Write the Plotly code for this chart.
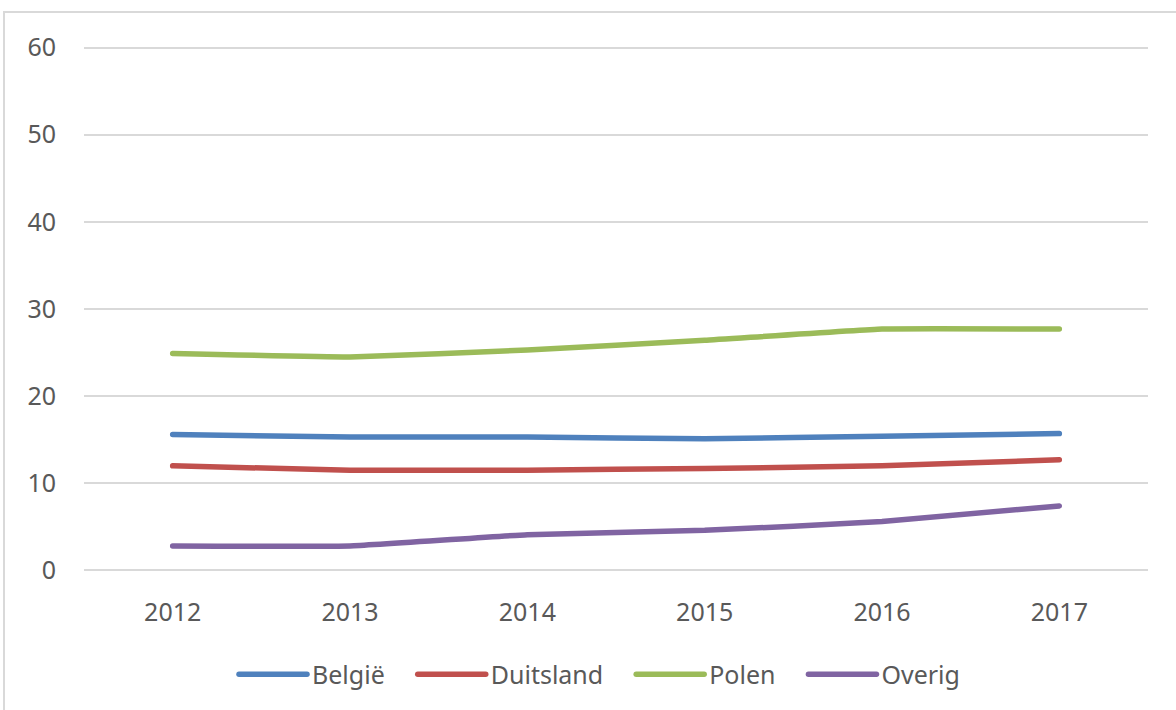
import plotly.graph_objects as go

years = ["2012", "2013", "2014", "2015", "2016", "2017"]
belgie = [15.6, 15.3, 15.3, 15.1, 15.4, 15.7]
duitsland = [12.0, 11.5, 11.5, 11.7, 12.0, 12.7]
polen = [24.9, 24.5, 25.3, 26.4, 27.7, 27.7]
overig = [2.8, 2.8, 4.1, 4.6, 5.6, 7.4]

series = [
    ("België", belgie, "#4F81BD"),
    ("Duitsland", duitsland, "#C0504D"),
    ("Polen", polen, "#9BBB59"),
    ("Overig", overig, "#8064A2"),
]

fig = go.Figure()
for name, vals, color in series:
    fig.add_trace(go.Scatter(
        x=years, y=vals, name=name, mode="lines",
        line=dict(color=color, width=5.5, shape="spline", smoothing=0.3),
    ))

W, H = 1176, 710
# plot area in pixels: x 84..1148, value 60 at y=48, value 0 at y=570
pad = 0.3
ppu = 522 / 60.0
L = 84
R = W - 1148
T = 48 - pad * ppu
B = H - (570 + pad * ppu)
pw, ph = W - L - R, H - T - B

def px_x(x):
    return (x - L) / pw

def px_y(y):
    return (H - B - y) / ph

fig.update_layout(
    width=W, height=H,
    margin=dict(l=L, r=R, t=T, b=B, pad=0),
    paper_bgcolor="white", plot_bgcolor="white",
    font=dict(family="Noto Sans", size=25, color="#595959"),
    showlegend=True,
    legend=dict(
        orientation="h", x=px_x(588), xanchor="center",
        y=px_y(674), yanchor="middle",
        font=dict(size=25, color="#595959"),
        itemwidth=91,
    ),
    xaxis=dict(
        type="category", range=[-0.5, 5.5], showgrid=False, zeroline=False,
        showline=False, ticks="", ticklabelstandoff=22,
        tickfont=dict(size=25, color="#595959"),
    ),
    yaxis=dict(
        range=[-pad, 60 + pad], tickvals=[0, 10, 20, 30, 40, 50, 60],
        showgrid=True, gridcolor="#D9D9D9", gridwidth=1.5,
        zeroline=False, showline=False, ticks="", ticklabelstandoff=27,
        tickfont=dict(size=25, color="#595959"),
    ),
    shapes=[
        dict(type="line", xref="paper", yref="paper",
             x0=px_x(3), x1=px_x(1180), y0=px_y(12.5), y1=px_y(12.5),
             line=dict(color="#D9D9D9", width=2)),
        dict(type="line", xref="paper", yref="paper",
             x0=px_x(4), x1=px_x(4), y0=px_y(11.5), y1=px_y(715),
             line=dict(color="#D9D9D9", width=2)),
    ],
)

css = (
    "body{margin:0;overflow:hidden}"
    ".scatterlayer .js-line{stroke-linecap:round}"
    ".legendlines path{d:path('M28,0h68');stroke-linecap:round}"
)
post = (
    "var s=document.createElement('style');s.textContent=\"" + css + "\";"
    "document.head.appendChild(s);"
)

fig.write_html("out.html", post_script=post, config={"displayModeBar": False})
